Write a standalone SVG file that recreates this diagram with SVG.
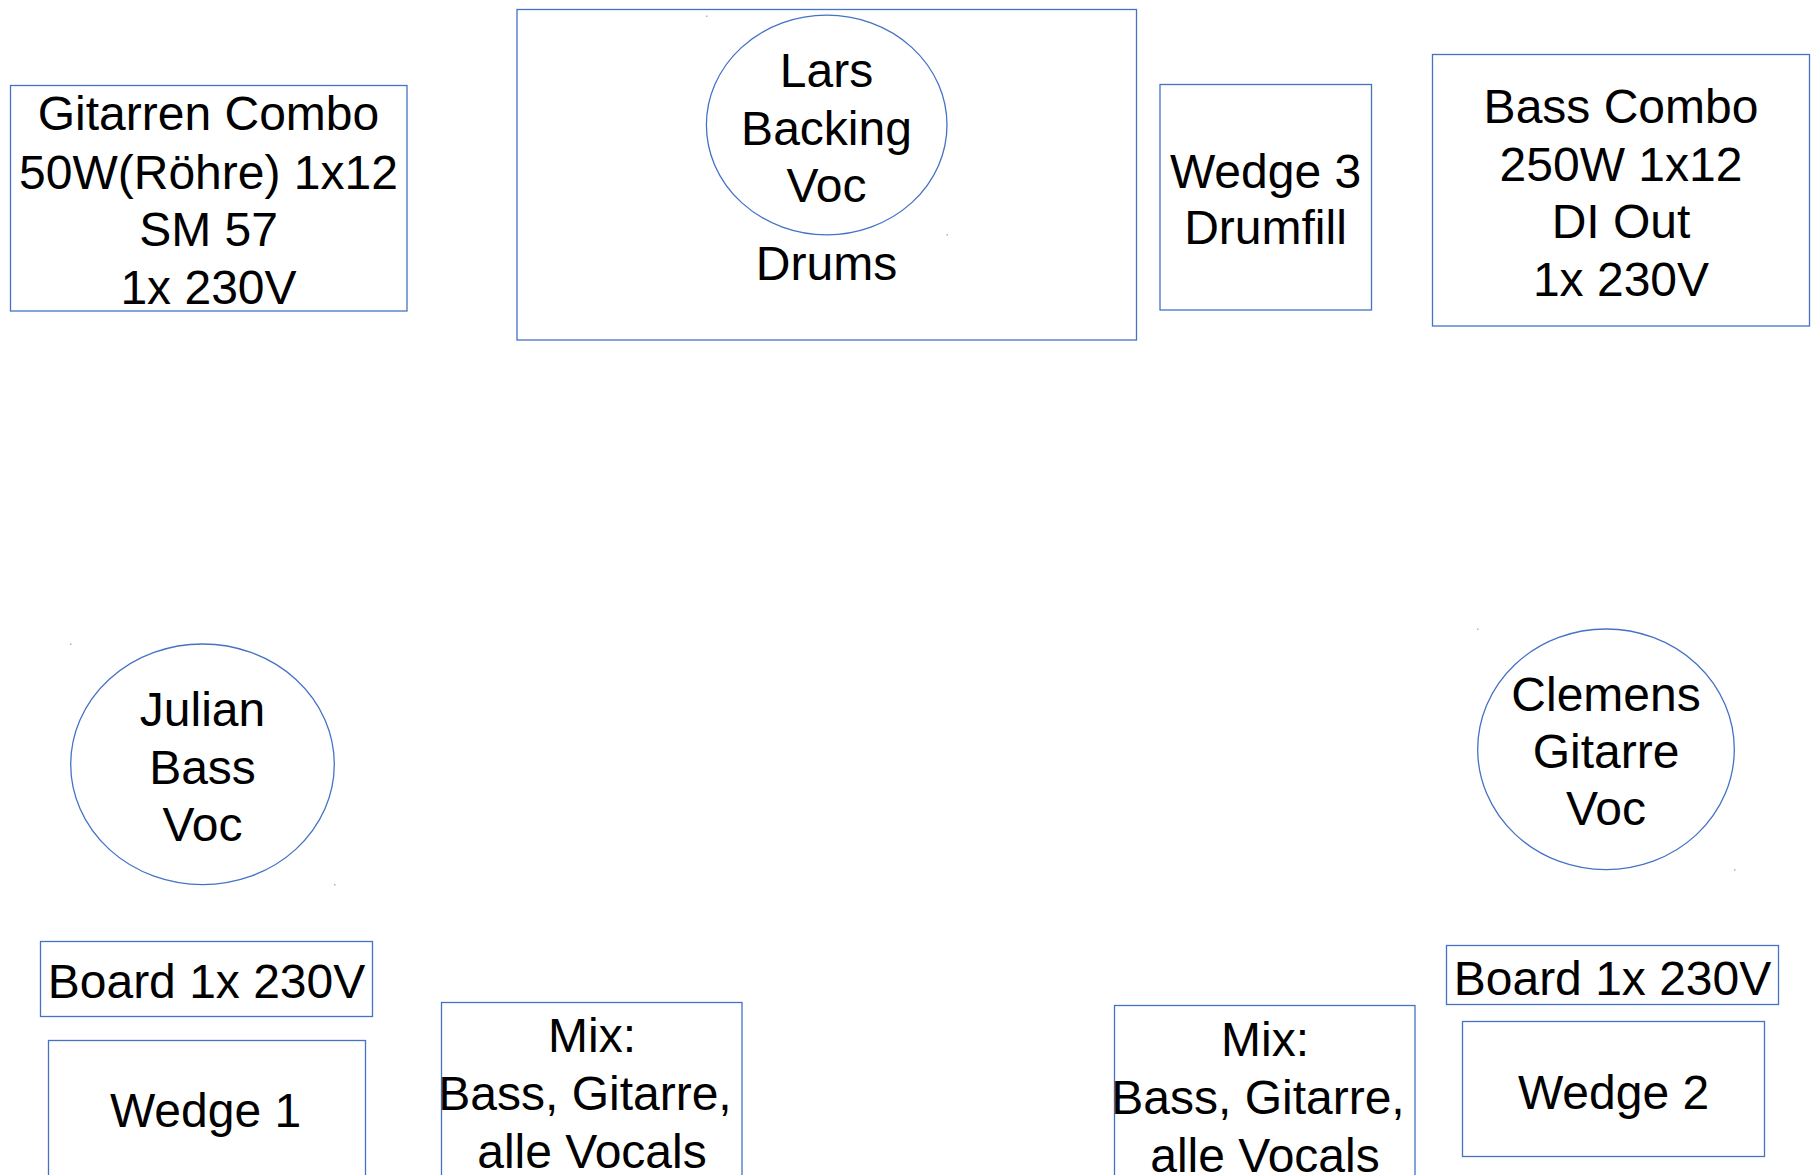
<svg xmlns="http://www.w3.org/2000/svg" width="1813" height="1175" viewBox="0 0 1813 1175">
<style>
.box{fill:#ffffff;stroke:#4472c4;stroke-width:1.3}
.t{font-family:"Liberation Sans",Arial,sans-serif;font-size:48px;fill:#000000;text-anchor:middle}
.dot{fill:#9db3d9}
</style>
<rect width="1813" height="1175" fill="#ffffff"/>
<g id="connectors"></g>
<g id="gitarren-combo">
<rect class="box" x="10.5" y="85.5" width="396.5" height="225.5"/>
<text class="t" x="208.5" y="130">Gitarren Combo</text>
<text class="t" x="208.5" y="188.5">50W(Röhre) 1x12</text>
<text class="t" x="208.5" y="245.5">SM 57</text>
<text class="t" x="208.5" y="303.5">1x 230V</text>
</g>
<g id="drums">
<rect class="box" x="517" y="9.5" width="619.5" height="330.5"/>
<text class="t" x="826.5" y="280">Drums</text>
</g>
<g id="lars">
<ellipse class="box" cx="826.7" cy="125" rx="120.3" ry="109.8"/>
<rect class="dot" x="706" y="15.5" width="1.5" height="1.5"/>
<rect class="dot" x="946.5" y="234" width="1.5" height="1.5"/>
<text class="t" x="826.5" y="87">Lars</text>
<text class="t" x="826.5" y="145">Backing</text>
<text class="t" x="826.5" y="202">Voc</text>
</g>
<g id="wedge3">
<rect class="box" x="1160" y="84.5" width="211.5" height="225.5"/>
<text class="t" x="1265.5" y="187.5">Wedge 3</text>
<text class="t" x="1265.5" y="244">Drumfill</text>
</g>
<g id="bass-combo">
<rect class="box" x="1432.5" y="54.5" width="377" height="271.5"/>
<text class="t" x="1621" y="122.5">Bass Combo</text>
<text class="t" x="1621" y="180.5">250W 1x12</text>
<text class="t" x="1621" y="237.5">DI Out</text>
<text class="t" x="1621" y="295.5">1x 230V</text>
</g>
<g id="julian">
<ellipse class="box" cx="202.5" cy="764.3" rx="131.8" ry="120.3"/>
<rect class="dot" x="70" y="643.5" width="1.5" height="1.5"/>
<rect class="dot" x="334" y="884" width="1.5" height="1.5"/>
<text class="t" x="202.5" y="726">Julian</text>
<text class="t" x="202.5" y="784">Bass</text>
<text class="t" x="202.5" y="840.5">Voc</text>
</g>
<g id="clemens">
<ellipse class="box" cx="1606" cy="749.3" rx="128.3" ry="120.3"/>
<rect class="dot" x="1477" y="628.5" width="1.5" height="1.5"/>
<rect class="dot" x="1734" y="869" width="1.5" height="1.5"/>
<text class="t" x="1606" y="710.5">Clemens</text>
<text class="t" x="1606" y="767.5">Gitarre</text>
<text class="t" x="1606" y="825">Voc</text>
</g>
<g id="board-left">
<rect class="box" x="40.5" y="941.5" width="332" height="75"/>
<text class="t" x="206.5" y="997.5">Board 1x 230V</text>
</g>
<g id="wedge1">
<rect class="box" x="48.5" y="1040.5" width="317" height="145"/>
<text class="t" x="205.5" y="1127">Wedge 1</text>
</g>
<g id="mix-left">
<rect class="box" x="441.5" y="1002.5" width="300.5" height="185"/>
<text class="t" x="592" y="1052">Mix:</text>
<text class="t" x="585" y="1110">Bass, Gitarre,</text>
<text class="t" x="592" y="1167.5">alle Vocals</text>
</g>
<g id="mix-right">
<rect class="box" x="1114.5" y="1005.5" width="300.5" height="185"/>
<text class="t" x="1265" y="1055.5">Mix:</text>
<text class="t" x="1258" y="1114">Bass, Gitarre,</text>
<text class="t" x="1265" y="1171.5">alle Vocals</text>
</g>
<g id="board-right">
<rect class="box" x="1446.5" y="945.5" width="332" height="59"/>
<text class="t" x="1612.5" y="995">Board 1x 230V</text>
</g>
<g id="wedge2">
<rect class="box" x="1462.5" y="1021.5" width="302" height="135"/>
<text class="t" x="1613.5" y="1109">Wedge 2</text>
</g>
</svg>
